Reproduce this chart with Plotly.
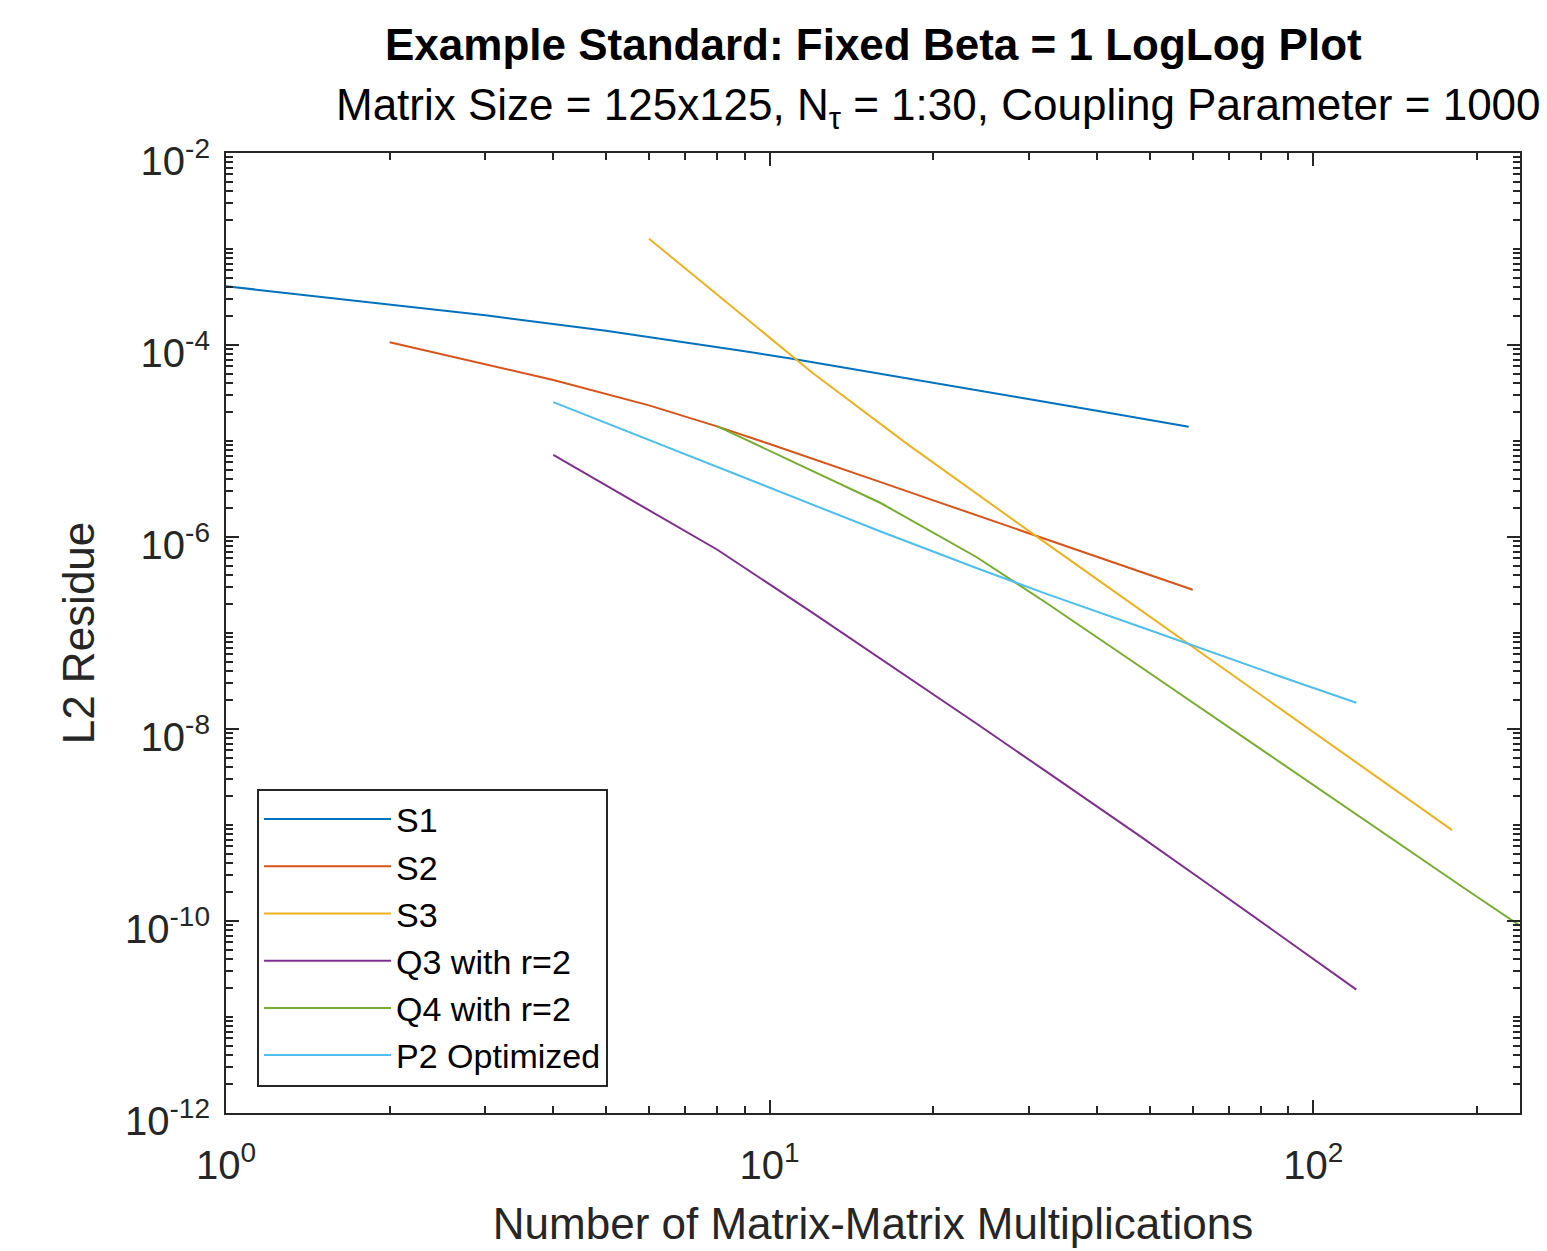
import plotly.graph_objects as go

# ---- data: L2 residue vs. number of matrix-matrix multiplications ----
s1_x = [1, 3, 5, 7, 9, 11, 15, 21, 29, 39, 49, 59]
s1_y = [4.09e-4, 2.04e-4, 1.41e-4, 1.07e-4, 8.63e-5, 7.18e-5, 5.35e-5,
        3.85e-5, 2.82e-5, 2.12e-5, 1.71e-5, 1.41e-5]

s2_x = [2, 4, 6, 8, 10, 12, 16, 20, 24, 30, 40, 50, 60]
s2_y = [1.07e-4, 4.32e-5, 2.35e-5, 1.42e-5, 9.29e-6, 6.55e-6, 3.73e-6,
        2.41e-6, 1.69e-6, 1.09e-6, 6.24e-7, 4.03e-7, 2.82e-7]

s3_x = [6, 12, 18, 24, 30, 42, 60, 90, 120, 150, 180]
s3_y = [1.28e-3, 5.11e-5, 9.12e-6, 2.81e-6, 1.15e-6, 2.99e-7, 7.18e-8,
        1.42e-8, 4.49e-9, 1.84e-9, 8.85e-10]

q3_x = [4, 8, 12, 16, 24, 32, 48, 64, 88, 120]
q3_y = [7.16e-6, 7.41e-7, 1.62e-7, 5.43e-8, 1.14e-8, 3.73e-9, 7.67e-10,
        2.43e-10, 6.79e-11, 1.93e-11]

q4_x = [8, 16, 24, 32, 48, 64, 96, 144, 192, 240]
q4_y = [1.43e-5, 2.26e-6, 6.19e-7, 2.13e-7, 4.48e-8, 1.47e-8, 3.05e-9,
        6.32e-10, 2.09e-10, 8.93e-11]

p2_x = [4, 8, 12, 16, 24, 32, 48, 64, 88, 120]
p2_y = [2.54e-5, 5.33e-6, 2.14e-6, 1.14e-6, 4.76e-7, 2.60e-7, 1.16e-7,
        6.50e-8, 3.44e-8, 1.88e-8]

series_names = ["S1", "S2", "S3", "Q3 with r=2", "Q4 with r=2", "P2 Optimized"]
series_colors = ["#0072BD", "#D95319", "#EDB120", "#7E2F8E", "#77AC30", "#4DBEEE"]

# axis ticks
x_major = [1, 10, 100]
x_major_text = ["10<sup>0</sup>", "10<sup>1</sup>", "10<sup>2</sup>"]
y_major = [1e-12, 1e-10, 1e-8, 1e-6, 1e-4, 1e-2]
y_major_text = ["10<sup>-12</sup>", "10<sup>-10</sup>", "10<sup>-8</sup>",
                "10<sup>-6</sup>", "10<sup>-4</sup>", "10<sup>-2</sup>"]

x_minor = [k * 10 ** e for e in range(0, 3) for k in range(1, 10)
           if k * 10 ** e <= 240 and k * 10 ** e not in x_major]
y_minor = [k * 10.0 ** e for e in range(-12, -2) for k in range(1, 10)
           if not (k == 1 and e % 2 == 0)]

FONT = "Liberation Sans, Arial, Helvetica, sans-serif"
INK = "#262626"

fig = go.Figure()
for xs, ys, name, color in zip(
        [s1_x, s2_x, s3_x, q3_x, q4_x, p2_x],
        [s1_y, s2_y, s3_y, q3_y, q4_y, p2_y],
        series_names, series_colors):
    fig.add_trace(go.Scatter(x=xs, y=ys, mode="lines", name=name,
                             line=dict(color=color, width=2)))

axis_common = dict(
    type="log", showgrid=False, zeroline=False, showline=True,
    linecolor=INK, linewidth=2, mirror="allticks",
    ticks="inside", ticklen=13, tickwidth=1.5, tickcolor=INK,
    tickfont=dict(family=FONT, size=40, color=INK),
)

fig.update_xaxes(
    **axis_common,
    range=[0, 2.3802],
    tickmode="array", tickvals=x_major, ticktext=x_major_text,
    ticklabelstandoff=16,
    minor=dict(tickmode="array", tickvals=x_minor, ticks="inside",
               ticklen=7, tickwidth=1.5, tickcolor=INK, showgrid=False),
    title=dict(text="Number of Matrix-Matrix Multiplications",
               font=dict(family=FONT, size=44, color=INK), standoff=22),
)
fig.update_yaxes(
    **axis_common,
    range=[-12, -2],
    tickmode="array", tickvals=y_major, ticktext=y_major_text,
    ticklabelstandoff=6, ticklabelshift=8,
    minor=dict(tickmode="array", tickvals=y_minor, ticks="inside",
               ticklen=7, tickwidth=1.5, tickcolor=INK, showgrid=False),
    title=dict(text="L2 Residue",
               font=dict(family=FONT, size=44, color=INK), standoff=17),
)

fig.update_layout(
    width=1547, height=1251,
    margin=dict(l=226, r=27, t=153, b=138),
    paper_bgcolor="white", plot_bgcolor="white",
    font=dict(family=FONT, color=INK),
    showlegend=True,
    legend=dict(
        x=0.024, y=0.338, xanchor="left", yanchor="top",
        bgcolor="white", bordercolor=INK, borderwidth=2,
        font=dict(family=FONT, size=34, color="black"),
        itemwidth=127, tracegroupgap=0,
    ),
    annotations=[
        dict(text="<b>Example Standard: Fixed Beta = 1 LogLog Plot</b>",
             xref="paper", yref="paper", x=0.5, y=1.113,
             xanchor="center", yanchor="middle", showarrow=False,
             font=dict(family=FONT, size=44, color="black")),
        dict(text="Matrix Size = 125x125, N<sub>τ</sub> = 1:30, Coupling Parameter = 1000",
             xref="paper", yref="paper", x=1.0178, y=1.047,
             xanchor="right", yanchor="middle", showarrow=False,
             font=dict(family=FONT, size=44, color="black")),
    ],
)

fig.write_html("out.html")
